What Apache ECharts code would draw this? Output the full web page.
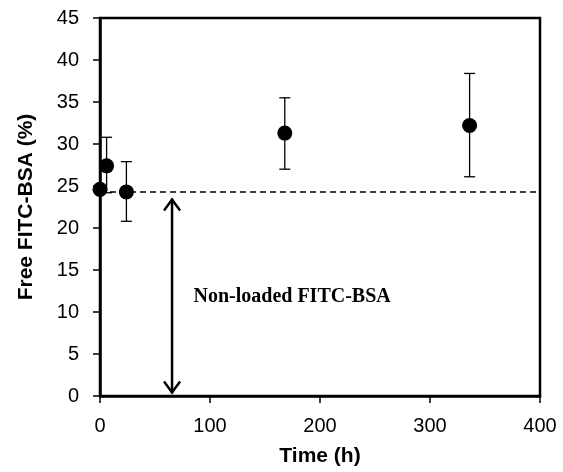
<!DOCTYPE html>
<html><head><meta charset="utf-8">
<script src="https://cdn.jsdelivr.net/npm/echarts@6/dist/echarts.min.js"></script>
<style>html,body{margin:0;padding:0;background:#fff}#c{width:563px;height:472px}</style>
</head><body><div id="c"></div>
<script>
var times = [0, 6, 24, 168, 336];
var freeFitc = [24.6, 27.4, 24.3, 31.3, 32.2];
var errLow = [24.6, 24.2, 20.8, 27.0, 26.1];
var errHigh = [24.6, 30.8, 27.9, 35.5, 38.4];
var baselineY = 24.3;
var baselineX = [0, 400];
var arrowX = 65.5;
var arrowYRange = [0.3, 23.5];
var annotText = 'Non-loaded FITC-BSA';
var annotPos = [85, 11.8];
var xTicks = [0, 100, 200, 300, 400];
var yTicks = [0, 5, 10, 15, 20, 25, 30, 35, 40, 45];

var chart = echarts.init(document.getElementById('c'), null, {renderer: 'canvas'});
var pts = times.map(function (t, i) { return [t, freeFitc[i]]; });
var errs = times.map(function (t, i) { return [t, errLow[i], errHigh[i]]; });

chart.setOption({
  animation: false,
  grid: {left: 100, right: 23, top: 18, bottom: 76, show: true, borderColor: '#000', borderWidth: 2.5, backgroundColor: 'transparent'},
  xAxis: {
    type: 'value', min: xTicks[0], max: xTicks[xTicks.length - 1], interval: 100,
    name: 'Time (h)', nameLocation: 'middle', nameGap: 50,
    nameTextStyle: {fontFamily: 'Liberation Sans, Arial', fontWeight: 'bold', fontSize: 21, color: '#000'},
    axisLine: {show: true, lineStyle: {color: '#000', width: 2.5}},
    axisTick: {show: true, inside: false, length: 7, lineStyle: {color: '#000', width: 1.5}},
    axisLabel: {fontFamily: 'Liberation Sans, Arial', fontSize: 20, color: '#000', margin: 20},
    splitLine: {show: false}
  },
  yAxis: {
    type: 'value', min: yTicks[0], max: yTicks[yTicks.length - 1], interval: 5,
    name: 'Free FITC-BSA (%)', nameLocation: 'middle', nameGap: 63, nameRotate: 90,
    nameTextStyle: {fontFamily: 'Liberation Sans, Arial', fontWeight: 'bold', fontSize: 21, color: '#000'},
    axisLine: {show: true, lineStyle: {color: '#000', width: 2.5}},
    axisTick: {show: true, inside: false, length: 7, lineStyle: {color: '#000', width: 1.5}},
    axisLabel: {fontFamily: 'Liberation Sans, Arial', fontSize: 20, color: '#000', margin: 21},
    splitLine: {show: false}
  },
  series: [
    {
      type: 'line', data: baselineX.map(function (x) { return [x, baselineY]; }),
      symbol: 'none', lineStyle: {color: '#000', width: 1.5, type: [6, 4]}, z: 1, silent: true
    },
    {
      type: 'custom', data: errs, z: 2, silent: true,
      renderItem: function (params, api) {
        var x = api.value(0);
        var lo = api.coord([x, api.value(1)]);
        var hi = api.coord([x, api.value(2)]);
        var hw = 5.5;
        var st = {stroke: '#000', lineWidth: 1.3};
        return {type: 'group', children: [
          {type: 'line', shape: {x1: lo[0], y1: lo[1], x2: hi[0], y2: hi[1]}, style: st},
          {type: 'line', shape: {x1: lo[0] - hw, y1: lo[1], x2: lo[0] + hw, y2: lo[1]}, style: st},
          {type: 'line', shape: {x1: hi[0] - hw, y1: hi[1], x2: hi[0] + hw, y2: hi[1]}, style: st}
        ]};
      }
    },
    {
      type: 'scatter', data: pts, symbol: 'circle', symbolSize: 15,
      itemStyle: {color: '#000', opacity: 1}, z: 3, silent: true
    },
    {
      type: 'custom', data: [[arrowX, arrowYRange[0], arrowYRange[1]]], z: 4, silent: true,
      renderItem: function (params, api) {
        var x = api.value(0);
        var b = api.coord([x, api.value(1)]);
        var t = api.coord([x, api.value(2)]);
        var st = {stroke: '#000', lineWidth: 2.5, fill: null};
        return {type: 'group', children: [
          {type: 'line', shape: {x1: b[0], y1: b[1], x2: t[0], y2: t[1]}, style: st},
          {type: 'polyline', shape: {points: [[t[0] - 8, t[1] + 12], [t[0], t[1] + 1], [t[0] + 8, t[1] + 12]]}, style: st},
          {type: 'polyline', shape: {points: [[b[0] - 8, b[1] - 12], [b[0], b[1] - 1], [b[0] + 8, b[1] - 12]]}, style: st}
        ]};
      }
    },
    {
      type: 'custom', data: [annotPos], z: 5, silent: true,
      renderItem: function (params, api) {
        var p = api.coord([api.value(0), api.value(1)]);
        return {type: 'text', x: p[0], y: p[1], style: {
          text: annotText, fill: '#000', font: 'bold 20px "Liberation Serif", "Times New Roman", serif',
          textAlign: 'left', textVerticalAlign: 'middle'
        }};
      }
    }
  ]
});
</script></body></html>
